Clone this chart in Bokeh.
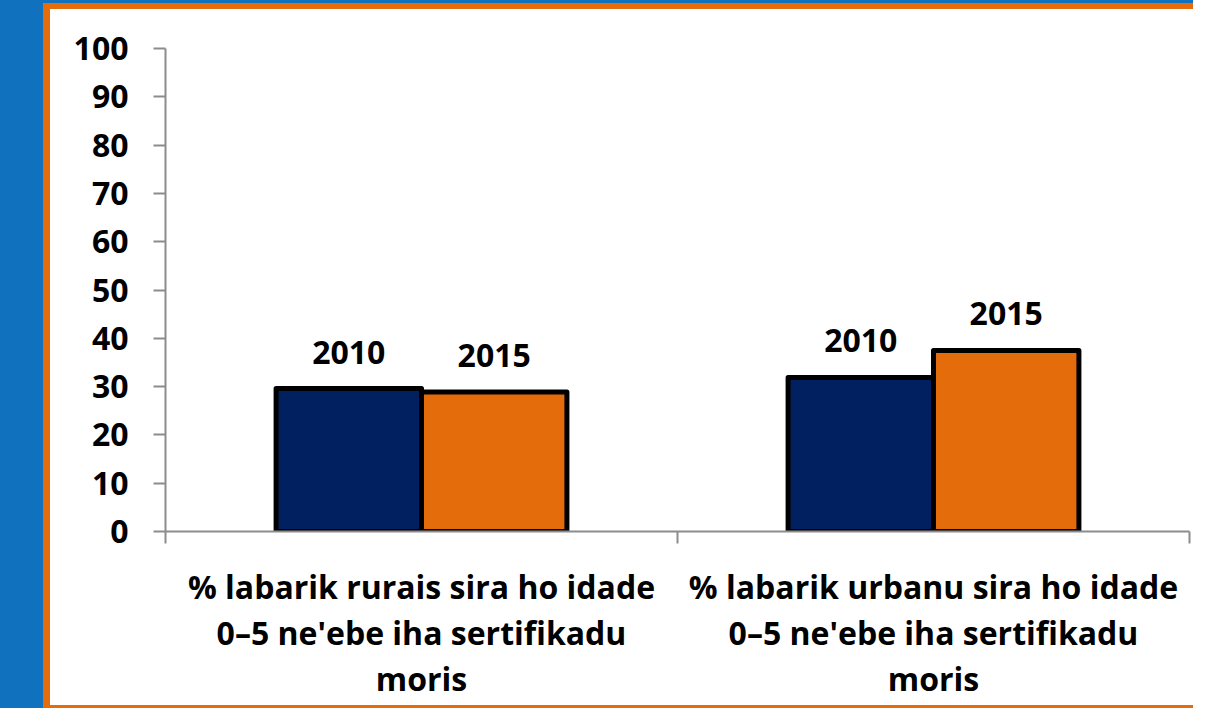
from bokeh.plotting import figure
from bokeh.models import Range1d, FixedTicker, ColumnDataSource, LabelSet
from bokeh.core.properties import value
from bokeh.embed import file_html
from bokeh.resources import INLINE

# ---- data ----
categories = [
    "% labarik rurais sira ho idade\n0–5 ne'ebe iha sertifikadu\nmoris",
    "% labarik urbanu sira ho idade\n0–5 ne'ebe iha sertifikadu\nmoris",
]
years = ["2010", "2015"]
values_2010 = [29.6, 31.9]
values_2015 = [28.9, 37.5]
y_ticks = [0, 10, 20, 30, 40, 50, 60, 70, 80, 90, 100]
series_colors = ["#002060", "#E46C0A"]

FONT = "Open Sans"
AXIS_GRAY = "#8C8C8C"
BAR_W = 0.284

# ---- build bar table ----
xs, tops, colors, labels = [], [], [], []
for i in range(len(categories)):
    for j, vals in enumerate([values_2010, values_2015]):
        xs.append(i + 0.5 + (j - 0.5) * BAR_W)
        tops.append(vals[i])
        colors.append(series_colors[j])
        labels.append(years[j])
src = ColumnDataSource(dict(x=xs, top=tops, color=colors, label=labels))

p = figure(
    width=1193, height=708,
    x_range=Range1d(0, len(categories)), y_range=Range1d(0, 100),
    output_backend="svg", toolbar_location=None,
    min_border_left=165, min_border_right=4, min_border_top=48, min_border_bottom=177,
)
p.border_fill_color = None
p.background_fill_color = None
p.outline_line_color = None
p.styles = {
    "background": (
        "linear-gradient(#1071BE, #1071BE) 0px 0px / 100% 3px no-repeat, "
        "linear-gradient(#E46C0A, #E46C0A) 43px 3px / 100% 6px no-repeat, "
        "linear-gradient(#E46C0A, #E46C0A) 43px 100% / 100% 3px no-repeat, "
        "linear-gradient(to right, #1071BE 0px, #1071BE 43px, #E46C0A 43px, #E46C0A 50px, #FFFFFF 50px)"
    )
}
p.xgrid.visible = False
p.ygrid.visible = False

p.vbar(x="x", top="top", bottom=0, width=BAR_W, fill_color="color",
       line_color="black", line_width=5, line_join="round", source=src)

labels_set = LabelSet(x="x", y="top", text="label", source=src,
                      text_align="center", text_baseline="alphabetic", y_offset=25,
                      text_font=value(FONT), text_font_style="bold",
                      text_font_size="32px", text_color="black")
p.add_layout(labels_set)

# x axis: category labels at centers, separator ticks at boundaries
xa = p.xaxis[0]
xa.ticker = FixedTicker(ticks=[i + 0.5 for i in range(len(categories))],
                        minor_ticks=list(range(len(categories) + 1)))
xa.major_label_overrides = {i + 0.5: c for i, c in enumerate(categories)}
xa.major_tick_out = 0
xa.major_tick_in = 0
xa.minor_tick_out = 12
xa.minor_tick_in = 0
xa.minor_tick_line_color = AXIS_GRAY
xa.minor_tick_line_width = 2
xa.axis_line_color = AXIS_GRAY
xa.axis_line_width = 2
xa.major_label_standoff = 21
xa.major_label_text_font = FONT
xa.major_label_text_font_style = "bold"
xa.major_label_text_font_size = "32px"
xa.major_label_text_color = "black"
xa.major_label_text_line_height = 1.07
xa.major_label_text_align = "center"

ya = p.yaxis[0]
ya.ticker = FixedTicker(ticks=y_ticks)
ya.major_tick_out = 12
ya.major_tick_in = 0
ya.minor_tick_out = 0
ya.minor_tick_in = 0
ya.major_tick_line_color = AXIS_GRAY
ya.major_tick_line_width = 2
ya.axis_line_color = AXIS_GRAY
ya.axis_line_width = 2
ya.major_label_standoff = 25
ya.major_label_text_font = FONT
ya.major_label_text_font_style = "bold"
ya.major_label_text_font_size = "32px"
ya.major_label_text_color = "black"

open("out.html", "w").write(file_html(p, INLINE))
